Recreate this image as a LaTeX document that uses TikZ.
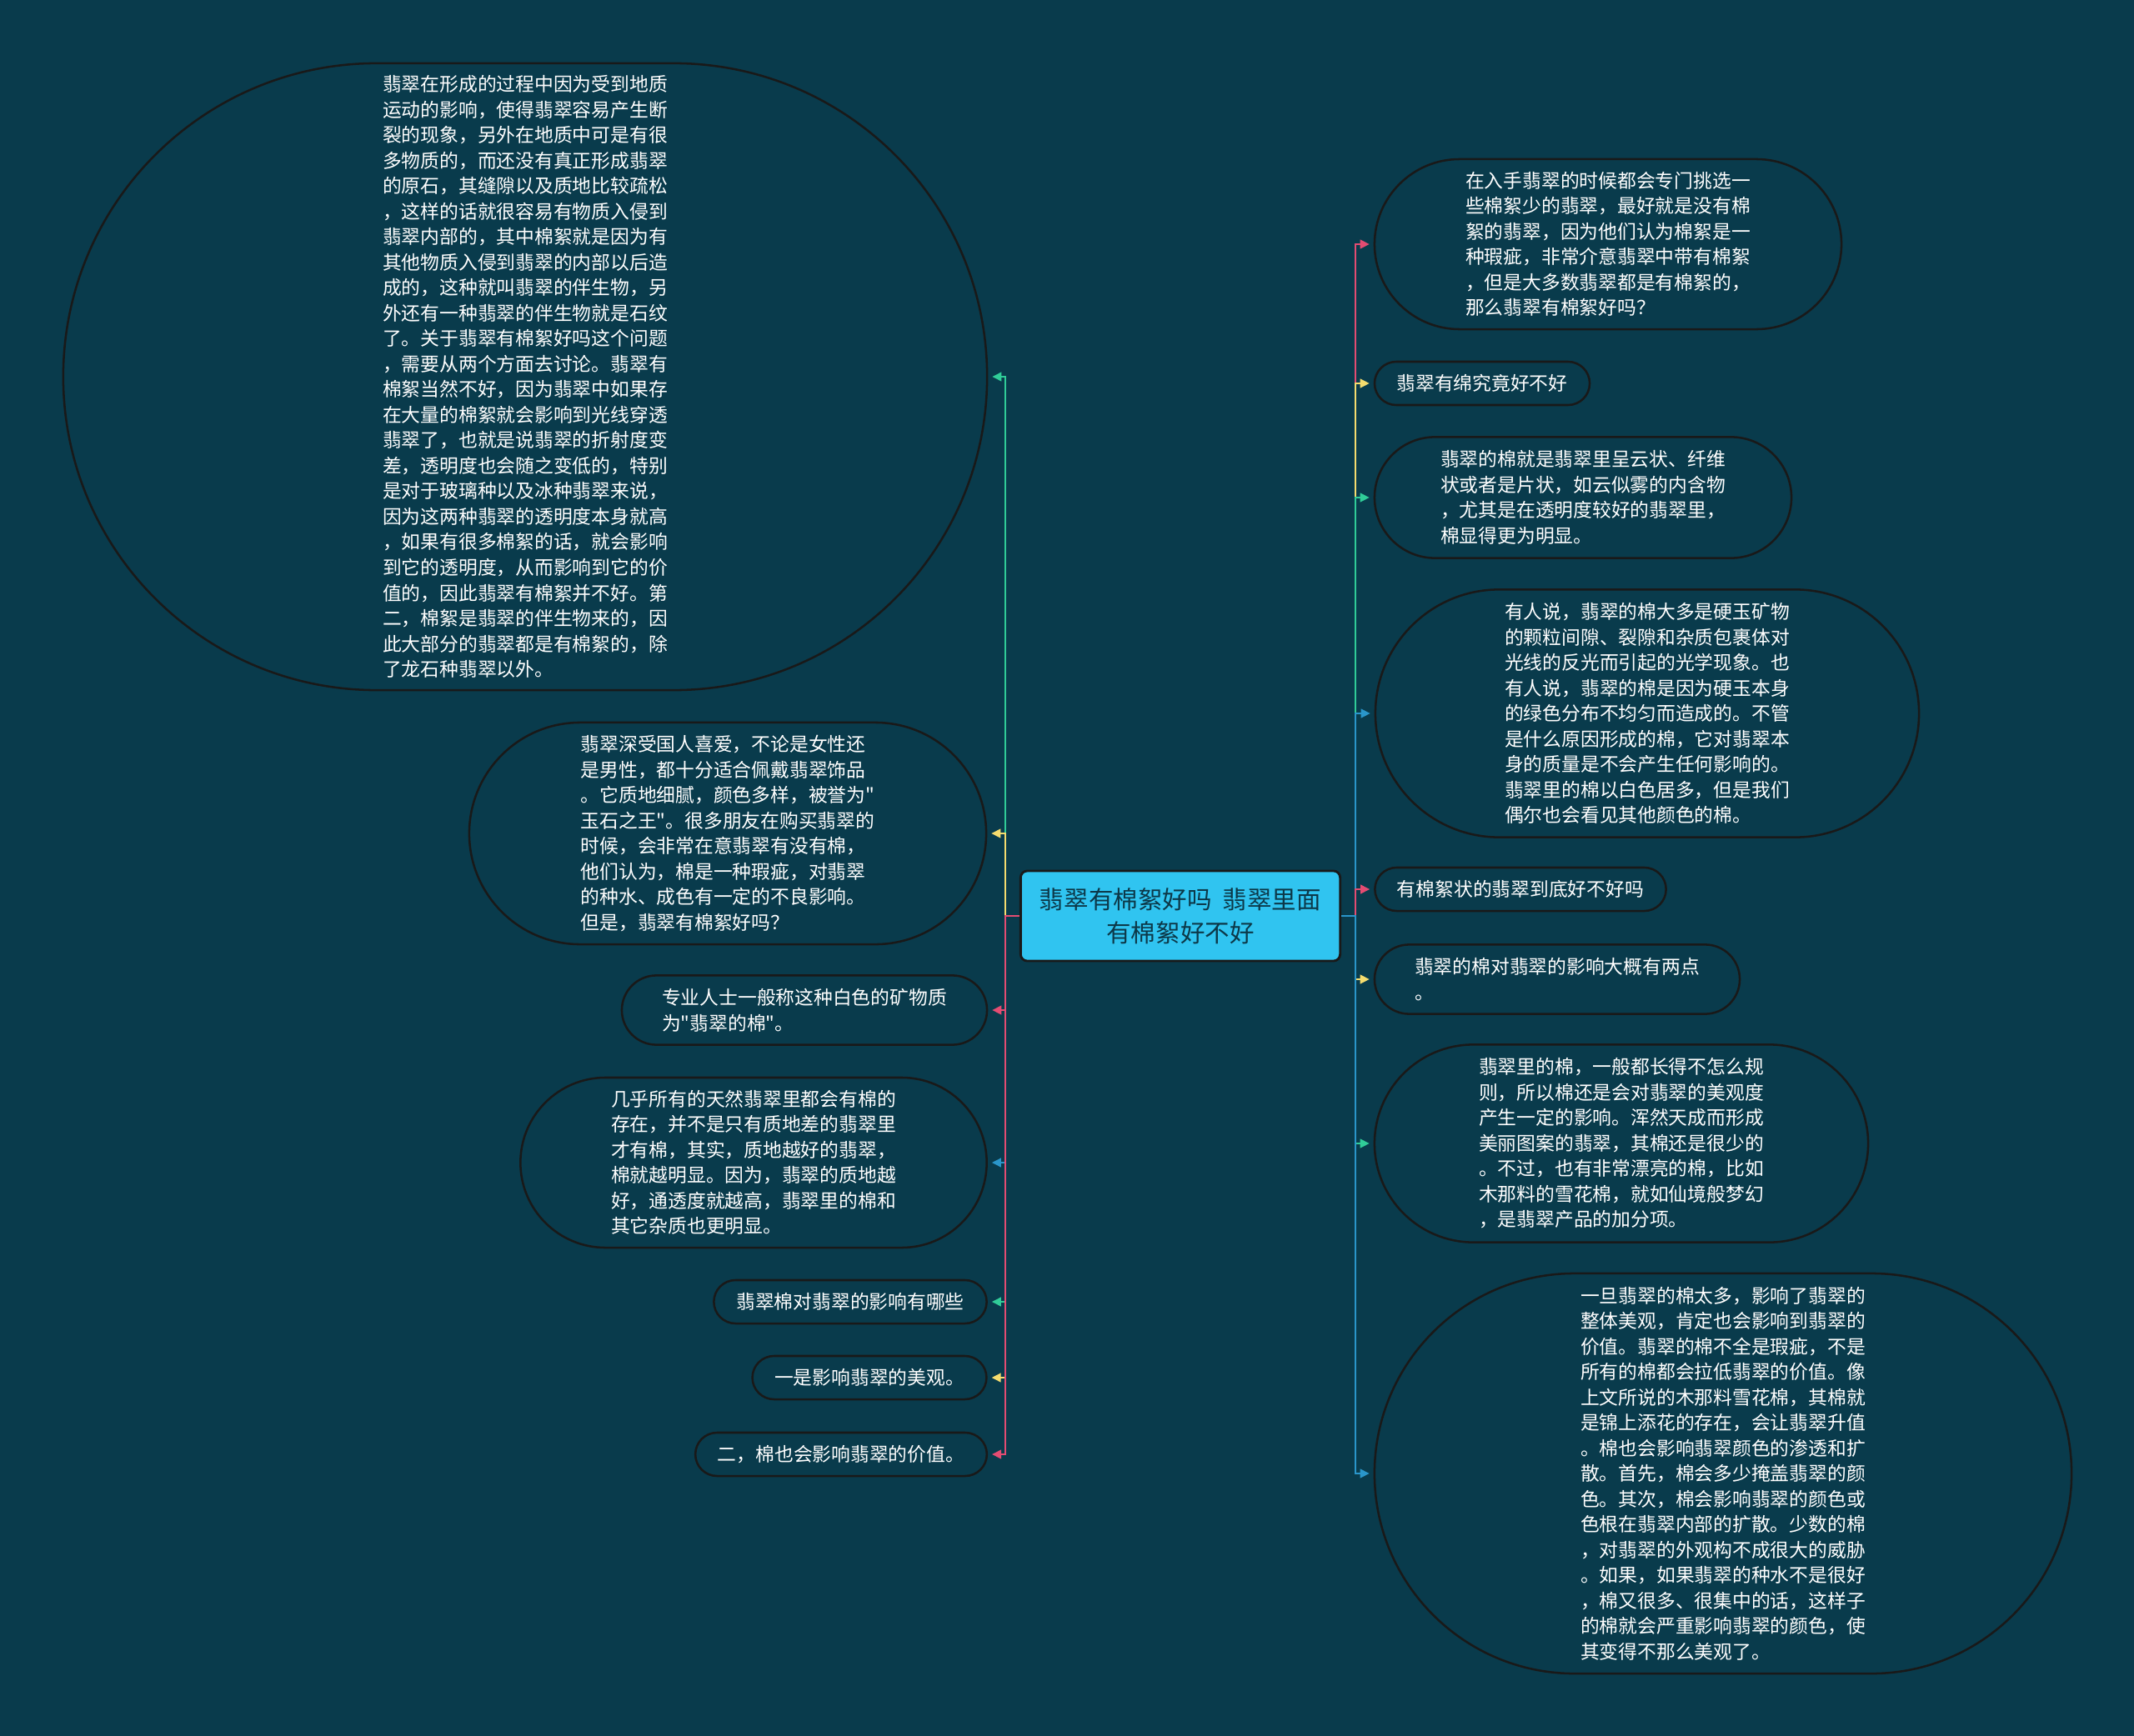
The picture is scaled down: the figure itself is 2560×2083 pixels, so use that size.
\documentclass[tikz,border=0pt]{standalone}
\usepackage{fontspec}
\usepackage{tikz}
\usetikzlibrary{shapes.misc, arrows.meta}
\newfontfamily\cjkfont{Noto Sans CJK SC}

\definecolor{bgteal}{RGB}{9,59,76}
\definecolor{hubblue}{RGB}{48,196,240}
\definecolor{hubtext}{RGB}{12,56,72}
\definecolor{linkpink}{RGB}{228,76,114}
\definecolor{linkyellow}{RGB}{245,220,110}
\definecolor{linkgreen}{RGB}{48,204,152}
\definecolor{linkblue}{RGB}{42,150,202}

\begin{document}
\begin{tikzpicture}[
        x=0.025cm, y=-0.025cm,
        leaf/.style={draw=black!90, line width=1.8pt, rounded rectangle, text=white,
            font=\cjkfont\fontsize{16.2pt}{21.7pt}\selectfont, align=left, inner sep=0pt},
        hub/.style={draw=black!90, line width=2pt, fill=hubblue, rounded corners=0.2cm,
            text=hubtext, font=\cjkfont\fontsize{21pt}{28.5pt}\selectfont, align=center,
            minimum width=9.58cm, minimum height=2.7cm}
        ]
    % Define styles
    \tikzstyle{link} = [line width=2pt, shorten >=0.12cm, -{Triangle[length=0.28cm, width=0.26cm]}]

    % Background
    \fill[bgteal] (0,0) rectangle (2560,2083);
    \useasboundingbox (0,0) rectangle (2560,2083);

    % Define central node
    \node[hub] (hub) at (1416, 1099) {翡翠有棉絮好吗~~翡翠里面\\有棉絮好不好};

    % Define left nodes
    \node[leaf, minimum width=27.7cm, minimum height=18.8cm] (L1) at (630, 452) {翡翠在形成的过程中因为受到地质\\运动的影响，使得翡翠容易产生断\\裂的现象，另外在地质中可是有很\\多物质的，而还没有真正形成翡翠\\的原石，其缝隙以及质地比较疏松\\，这样的话就很容易有物质入侵到\\翡翠内部的，其中棉絮就是因为有\\其他物质入侵到翡翠的内部以后造\\成的，这种就叫翡翠的伴生物，另\\外还有一种翡翠的伴生物就是石纹\\了。关于翡翠有棉絮好吗这个问题\\，需要从两个方面去讨论。翡翠有\\棉絮当然不好，因为翡翠中如果存\\在大量的棉絮就会影响到光线穿透\\翡翠了，也就是说翡翠的折射度变\\差，透明度也会随之变低的，特别\\是对于玻璃种以及冰种翡翠来说，\\因为这两种翡翠的透明度本身就高\\，如果有很多棉絮的话，就会影响\\到它的透明度，从而影响到它的价\\值的，因此翡翠有棉絮并不好。第\\二，棉絮是翡翠的伴生物来的，因\\此大部分的翡翠都是有棉絮的，除\\了龙石种翡翠以外。};
    \node[leaf, minimum width=15.5cm, minimum height=6.65cm] (L2) at (873, 1000) {翡翠深受国人喜爱，不论是女性还\\是男性，都十分适合佩戴翡翠饰品\\。它质地细腻，颜色多样，被誉为"\\玉石之王"。很多朋友在购买翡翠的\\时候，会非常在意翡翠有没有棉，\\他们认为，棉是一种瑕疵，对翡翠\\的种水、成色有一定的不良影响。\\但是，翡翠有棉絮好吗？};
    \node[leaf, minimum width=10.95cm, minimum height=2.08cm] (L3) at (965, 1212) {专业人士一般称这种白色的矿物质\\为"翡翠的棉"。};
    \node[leaf, minimum width=13.98cm, minimum height=5.1cm] (L4) at (904, 1395) {几乎所有的天然翡翠里都会有棉的\\存在，并不是只有质地差的翡翠里\\才有棉，其实，质地越好的翡翠，\\棉就越明显。因为，翡翠的质地越\\好，通透度就越高，翡翠里的棉和\\其它杂质也更明显。};
    \node[leaf, minimum width=8.18cm, minimum height=1.3cm] (L5) at (1020, 1562) {翡翠棉对翡翠的影响有哪些};
    \node[leaf, minimum width=7.02cm, minimum height=1.3cm] (L6) at (1043, 1653) {一是影响翡翠的美观。};
    \node[leaf, minimum width=8.74cm, minimum height=1.3cm] (L7) at (1009, 1745) {二，棉也会影响翡翠的价值。};

    % Define right nodes
    \node[leaf, minimum width=14.0cm, minimum height=5.1cm] (R1) at (1929, 293) {在入手翡翠的时候都会专门挑选一\\些棉絮少的翡翠，最好就是没有棉\\絮的翡翠，因为他们认为棉絮是一\\种瑕疵，非常介意翡翠中带有棉絮\\，但是大多数翡翠都是有棉絮的，\\那么翡翠有棉絮好吗？};
    \node[leaf, minimum width=6.45cm, minimum height=1.3cm] (R2) at (1778, 460) {翡翠有绵究竟好不好};
    \node[leaf, minimum width=12.5cm, minimum height=3.63cm] (R3) at (1899, 597) {翡翠的棉就是翡翠里呈云状、纤维\\状或者是片状，如云似雾的内含物\\，尤其是在透明度较好的翡翠里，\\棉显得更为明显。};
    \node[leaf, minimum width=16.3cm, minimum height=7.43cm] (R4) at (1976, 856) {有人说，翡翠的棉大多是硬玉矿物\\的颗粒间隙、裂隙和杂质包裹体对\\光线的反光而引起的光学现象。也\\有人说，翡翠的棉是因为硬玉本身\\的绿色分布不均匀而造成的。不管\\是什么原因形成的棉，它对翡翠本\\身的质量是不会产生任何影响的。\\翡翠里的棉以白色居多，但是我们\\偶尔也会看见其他颜色的棉。};
    \node[leaf, minimum width=8.73cm, minimum height=1.3cm] (R5) at (1824, 1067) {有棉絮状的翡翠到底好不好吗};
    \node[leaf, minimum width=10.95cm, minimum height=2.08cm] (R6) at (1868, 1175) {翡翠的棉对翡翠的影响大概有两点\\。};
    \node[leaf, minimum width=14.8cm, minimum height=5.93cm] (R7) at (1945, 1372) {翡翠里的棉，一般都长得不怎么规\\则，所以棉还是会对翡翠的美观度\\产生一定的影响。浑然天成而形成\\美丽图案的翡翠，其棉还是很少的\\。不过，也有非常漂亮的棉，比如\\木那料的雪花棉，就如仙境般梦幻\\，是翡翠产品的加分项。};
    \node[leaf, minimum width=20.9cm, minimum height=12.0cm] (R8) at (2067, 1768) {一旦翡翠的棉太多，影响了翡翠的\\整体美观，肯定也会影响到翡翠的\\价值。翡翠的棉不全是瑕疵，不是\\所有的棉都会拉低翡翠的价值。像\\上文所说的木那料雪花棉，其棉就\\是锦上添花的存在，会让翡翠升值\\。棉也会影响翡翠颜色的渗透和扩\\散。首先，棉会多少掩盖翡翠的颜\\色。其次，棉会影响翡翠的颜色或\\色根在翡翠内部的扩散。少数的棉\\，对翡翠的外观构不成很大的威胁\\。如果，如果翡翠的种水不是很好\\，棉又很多、很集中的话，这样子\\的棉就会严重影响翡翠的颜色，使\\其变得不那么美观了。};

    % Draw edges from central node to left nodes
    \draw[link, linkgreen] (hub.west) -- ++(-17,0) |- (L1.east);
    \draw[link, linkyellow] (hub.west) -- ++(-17,0) |- (L2.east);
    \draw[link, linkpink] (hub.west) -- ++(-17,0) |- (L3.east);
    \draw[link, linkblue] (hub.west) -- ++(-17,0) |- (L4.east);
    \draw[link, linkgreen] (hub.west) -- ++(-17,0) |- (L5.east);
    \draw[link, linkyellow] (hub.west) -- ++(-17,0) |- (L6.east);
    \draw[link, linkpink] (hub.west) -- ++(-17,0) |- (L7.east);

    % Draw edges from central node to right nodes
    \draw[link, linkpink] (hub.east) -- ++(17,0) |- (R1.west);
    \draw[link, linkyellow] (hub.east) -- ++(17,0) |- (R2.west);
    \draw[link, linkgreen] (hub.east) -- ++(17,0) |- (R3.west);
    \draw[link, linkblue] (hub.east) -- ++(17,0) |- (R4.west);
    \draw[link, linkpink] (hub.east) -- ++(17,0) |- (R5.west);
    \draw[link, linkyellow] (hub.east) -- ++(17,0) |- (R6.west);
    \draw[link, linkgreen] (hub.east) -- ++(17,0) |- (R7.west);
    \draw[link, linkblue] (hub.east) -- ++(17,0) |- (R8.west);

\end{tikzpicture}
\end{document}
